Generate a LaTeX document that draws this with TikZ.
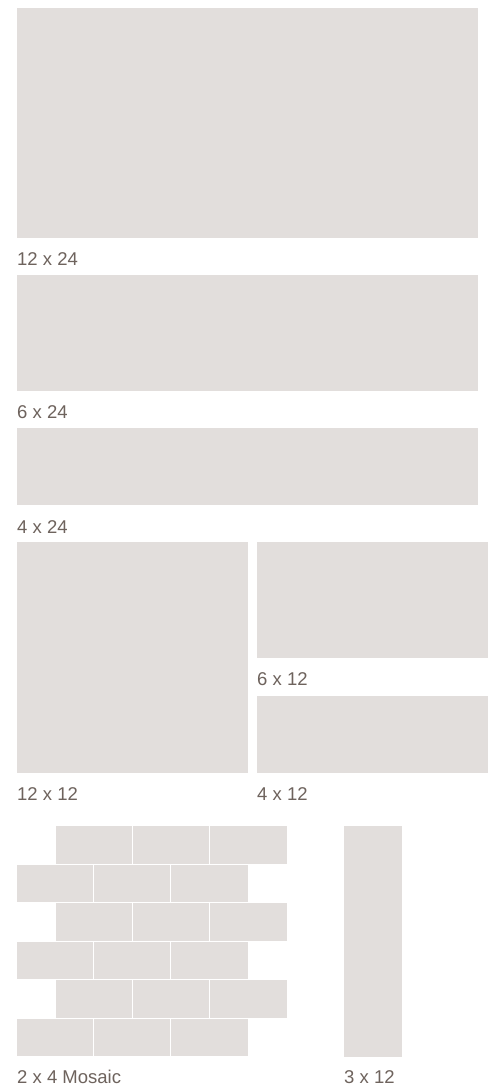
\documentclass[tikz,border=0pt]{standalone}
\usepackage{fontspec}
\setmainfont{Liberation Sans}
\definecolor{tile}{HTML}{E2DEDC}
\definecolor{lbl}{HTML}{6E635D}
\begin{document}
\begin{tikzpicture}[x=1pt,y=-1pt,
  tilefill/.style={fill=tile},
  lab/.style={anchor=base west,inner sep=0pt,text=lbl,font=\fontsize{18.5}{22}\selectfont}]
\useasboundingbox[fill=white] (0,0) rectangle (490,1091);
% large formats
\fill[tilefill] (17,8) rectangle (478,238);
\node[lab] (l1224) at (17,265) {12 x 24};
\fill[tilefill] (17,275) rectangle (478,390.5);
\node[lab] (l624) at (17,418) {6 x 24};
\fill[tilefill] (17,428) rectangle (478,505);
\node[lab] (l424) at (17,533) {4 x 24};
% squares
\fill[tilefill] (17,542) rectangle (248,773);
\fill[tilefill] (257,542) rectangle (488,657.5);
\node[lab] (l612) at (257,685) {6 x 12};
\fill[tilefill] (257,696) rectangle (488,773);
\node[lab] (l1212) at (17,800) {12 x 12};
\node[lab] (l412) at (257,800) {4 x 12};
% mosaic
\foreach \r in {0,...,5}{
  \pgfmathsetmacro{\yt}{826+\r*38.5}
  \pgfmathsetmacro{\yb}{\yt+37.5}
  \pgfmathsetmacro{\xo}{mod(\r,2)==0 ? 56 : 17}
  \foreach \c in {0,1,2}{
    \pgfmathsetmacro{\xl}{\xo+\c*77.2}
    \pgfmathsetmacro{\xr}{\xl+76.2}
    \fill[tilefill] (\xl,\yt) rectangle (\xr,\yb);
  }
}
\node[lab] (lmos) at (17,1083) {2 x 4 Mosaic};
% 3x12
\fill[tilefill] (344,826) rectangle (402,1057);
\node[lab] (l312) at (344,1083) {3 x 12};
\end{tikzpicture}
\end{document}
